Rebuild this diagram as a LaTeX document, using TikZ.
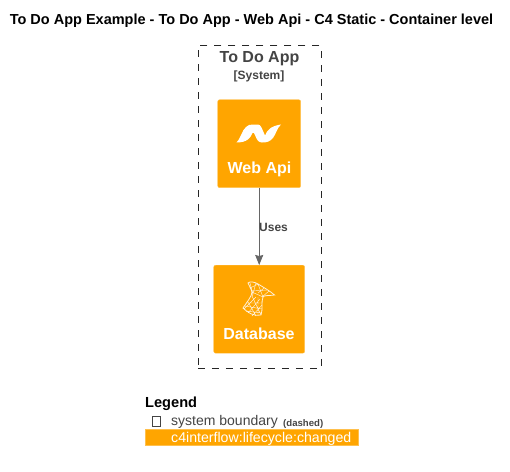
\documentclass[tikz,border=0pt]{standalone}
\usepackage{fontspec}
\setmainfont{Liberation Sans}
\definecolor{boxfill}{HTML}{FFA500}
\definecolor{boxedge}{HTML}{FFC04D}
\definecolor{textgray}{HTML}{444444}
\definecolor{linegray}{HTML}{666666}
\usetikzlibrary{arrows.meta}
\tikzstyle{boundary}=[draw=black!85,line width=.7pt,dash pattern=on 7pt off 7pt,inner sep=0pt,anchor=north west,minimum width=123.5pt,minimum height=322.5pt]
\tikzstyle{container}=[draw=boxedge,fill=boxfill,rounded corners=2pt,inner sep=0pt,anchor=north west]
\tikzstyle{boxtext}=[text=white,font=\bfseries\fontsize{16}{16}\selectfont,inner sep=0pt]
\tikzstyle{mesh}=[draw=white,line width=.45pt,opacity=.85]

\begin{document}
\begin{tikzpicture}[x=1pt,y=-1pt]
	\useasboundingbox (0,0) rectangle (510,471);
	%title
	\node[font=\bfseries\fontsize{14.5}{14.5}\selectfont,inner sep=0pt] (title) at (251.5,21) {To Do App Example - To Do App - Web Api - C4 Static - Container level};
	%system boundary
	\node[boundary] (system) at (197.5,45.3) {};
	\node[text=textgray,font=\bfseries\fontsize{16}{16}\selectfont,inner sep=0pt] (systemname) at (259.5,58.5) {To Do App};
	\node[text=textgray,font=\bfseries\fontsize{12}{12}\selectfont,inner sep=0pt] (systemtag) at (259,76) {[System]};
	%containers
	\node[container,minimum width=83pt,minimum height=88pt] (webapi) at (217.5,99.5) {};
	\node[container,minimum width=91pt,minimum height=88pt] (database) at (213.5,265) {};
	\node[boxtext] (webapitext) at (259.5,169.5) {Web Api};
	\node[boxtext] (databasetext) at (259,333.5) {Database};
	%dotnet logo
	\fill[white] (236.5,142.5) .. controls (240,140) and (242,130) .. (246,127)
		.. controls (248,125) and (250,124.5) .. (253,124.5)
		-- (258,124.5)
		.. controls (261,124.5) and (262,129) .. (265,135.5)
		.. controls (267,130) and (271,126) .. (281,124.5)
		.. controls (277,128) and (276,134) .. (273,138)
		.. controls (270,141.5) and (267,142.5) .. (262,142.5)
		.. controls (258,142.5) and (256.5,139) .. (255,135)
		.. controls (254,132.5) and (253.5,132) .. (252.5,133)
		.. controls (250.5,138) and (247,142.5) .. (236.5,142.5) -- cycle;
	%database logo
	\draw[mesh,line width=.8pt] (248,283) .. controls (250,281) and (255,282) .. (258,284)
		.. controls (263,287) and (270,291) .. (274.5,295)
		.. controls (268,296) and (264,295) .. (263,297)
		.. controls (261,302) and (263,310) .. (261,315)
		.. controls (254,317) and (247,312) .. (243,308)
		.. controls (247,302) and (252,296) .. (252,292)
		.. controls (251,288) and (249,286) .. (248,283) -- cycle;
	\draw[mesh] (252,292) -- (263,297) (250,283) -- (253,295) (256,283) -- (252,297)
		(258,284) -- (263,297) (264,288) -- (258,293) (269,291) -- (262,297)
		(247,303) -- (262,303) (245,306) -- (262,309) (244,309) -- (256,297)
		(248,313) -- (260,299) (252,316) -- (262,305) (252,296) -- (261,315)
		(248,302) -- (256,316) (250,288) -- (258,284) (252,291) -- (267,290)
		(246,311) -- (262,313) (258,297) -- (258,315);
	%connector
	\draw[linegray,line width=.9pt,-{Stealth[length=10pt,width=8pt,inset=1pt]}] (webapi) -- (database);
	\node[text=textgray,font=\bfseries\fontsize{12}{12}\selectfont,inner sep=0pt,anchor=west] (uses) at (259,227) {Uses};
	%legend
	\node[font=\bfseries\fontsize{14.6}{14.6}\selectfont,inner sep=0pt,anchor=west] (legendtitle) at (145,404) {Legend};
	\draw[textgray,line width=.6pt] (152,416.5) rectangle (160,426.5);
	\node[text=textgray,font=\fontsize{14}{14}\selectfont,inner sep=0pt,anchor=base west] (legendboundary) at (171,425) {system boundary};
	\node[text=textgray,font=\bfseries\fontsize{9.6}{9.6}\selectfont,inner sep=0pt,anchor=base west] (legenddashed) at (283,426) {(dashed)};
	\node[container,rounded corners=0pt,minimum width=213.5pt,minimum height=16.5pt] (legendbar) at (144.5,428.5) {};
	\node[text=white,font=\fontsize{14.15}{14.15}\selectfont,inner sep=0pt,anchor=base west] (legendchanged) at (171,442) {c4interflow:lifecycle:changed};
\end{tikzpicture}
\end{document}
